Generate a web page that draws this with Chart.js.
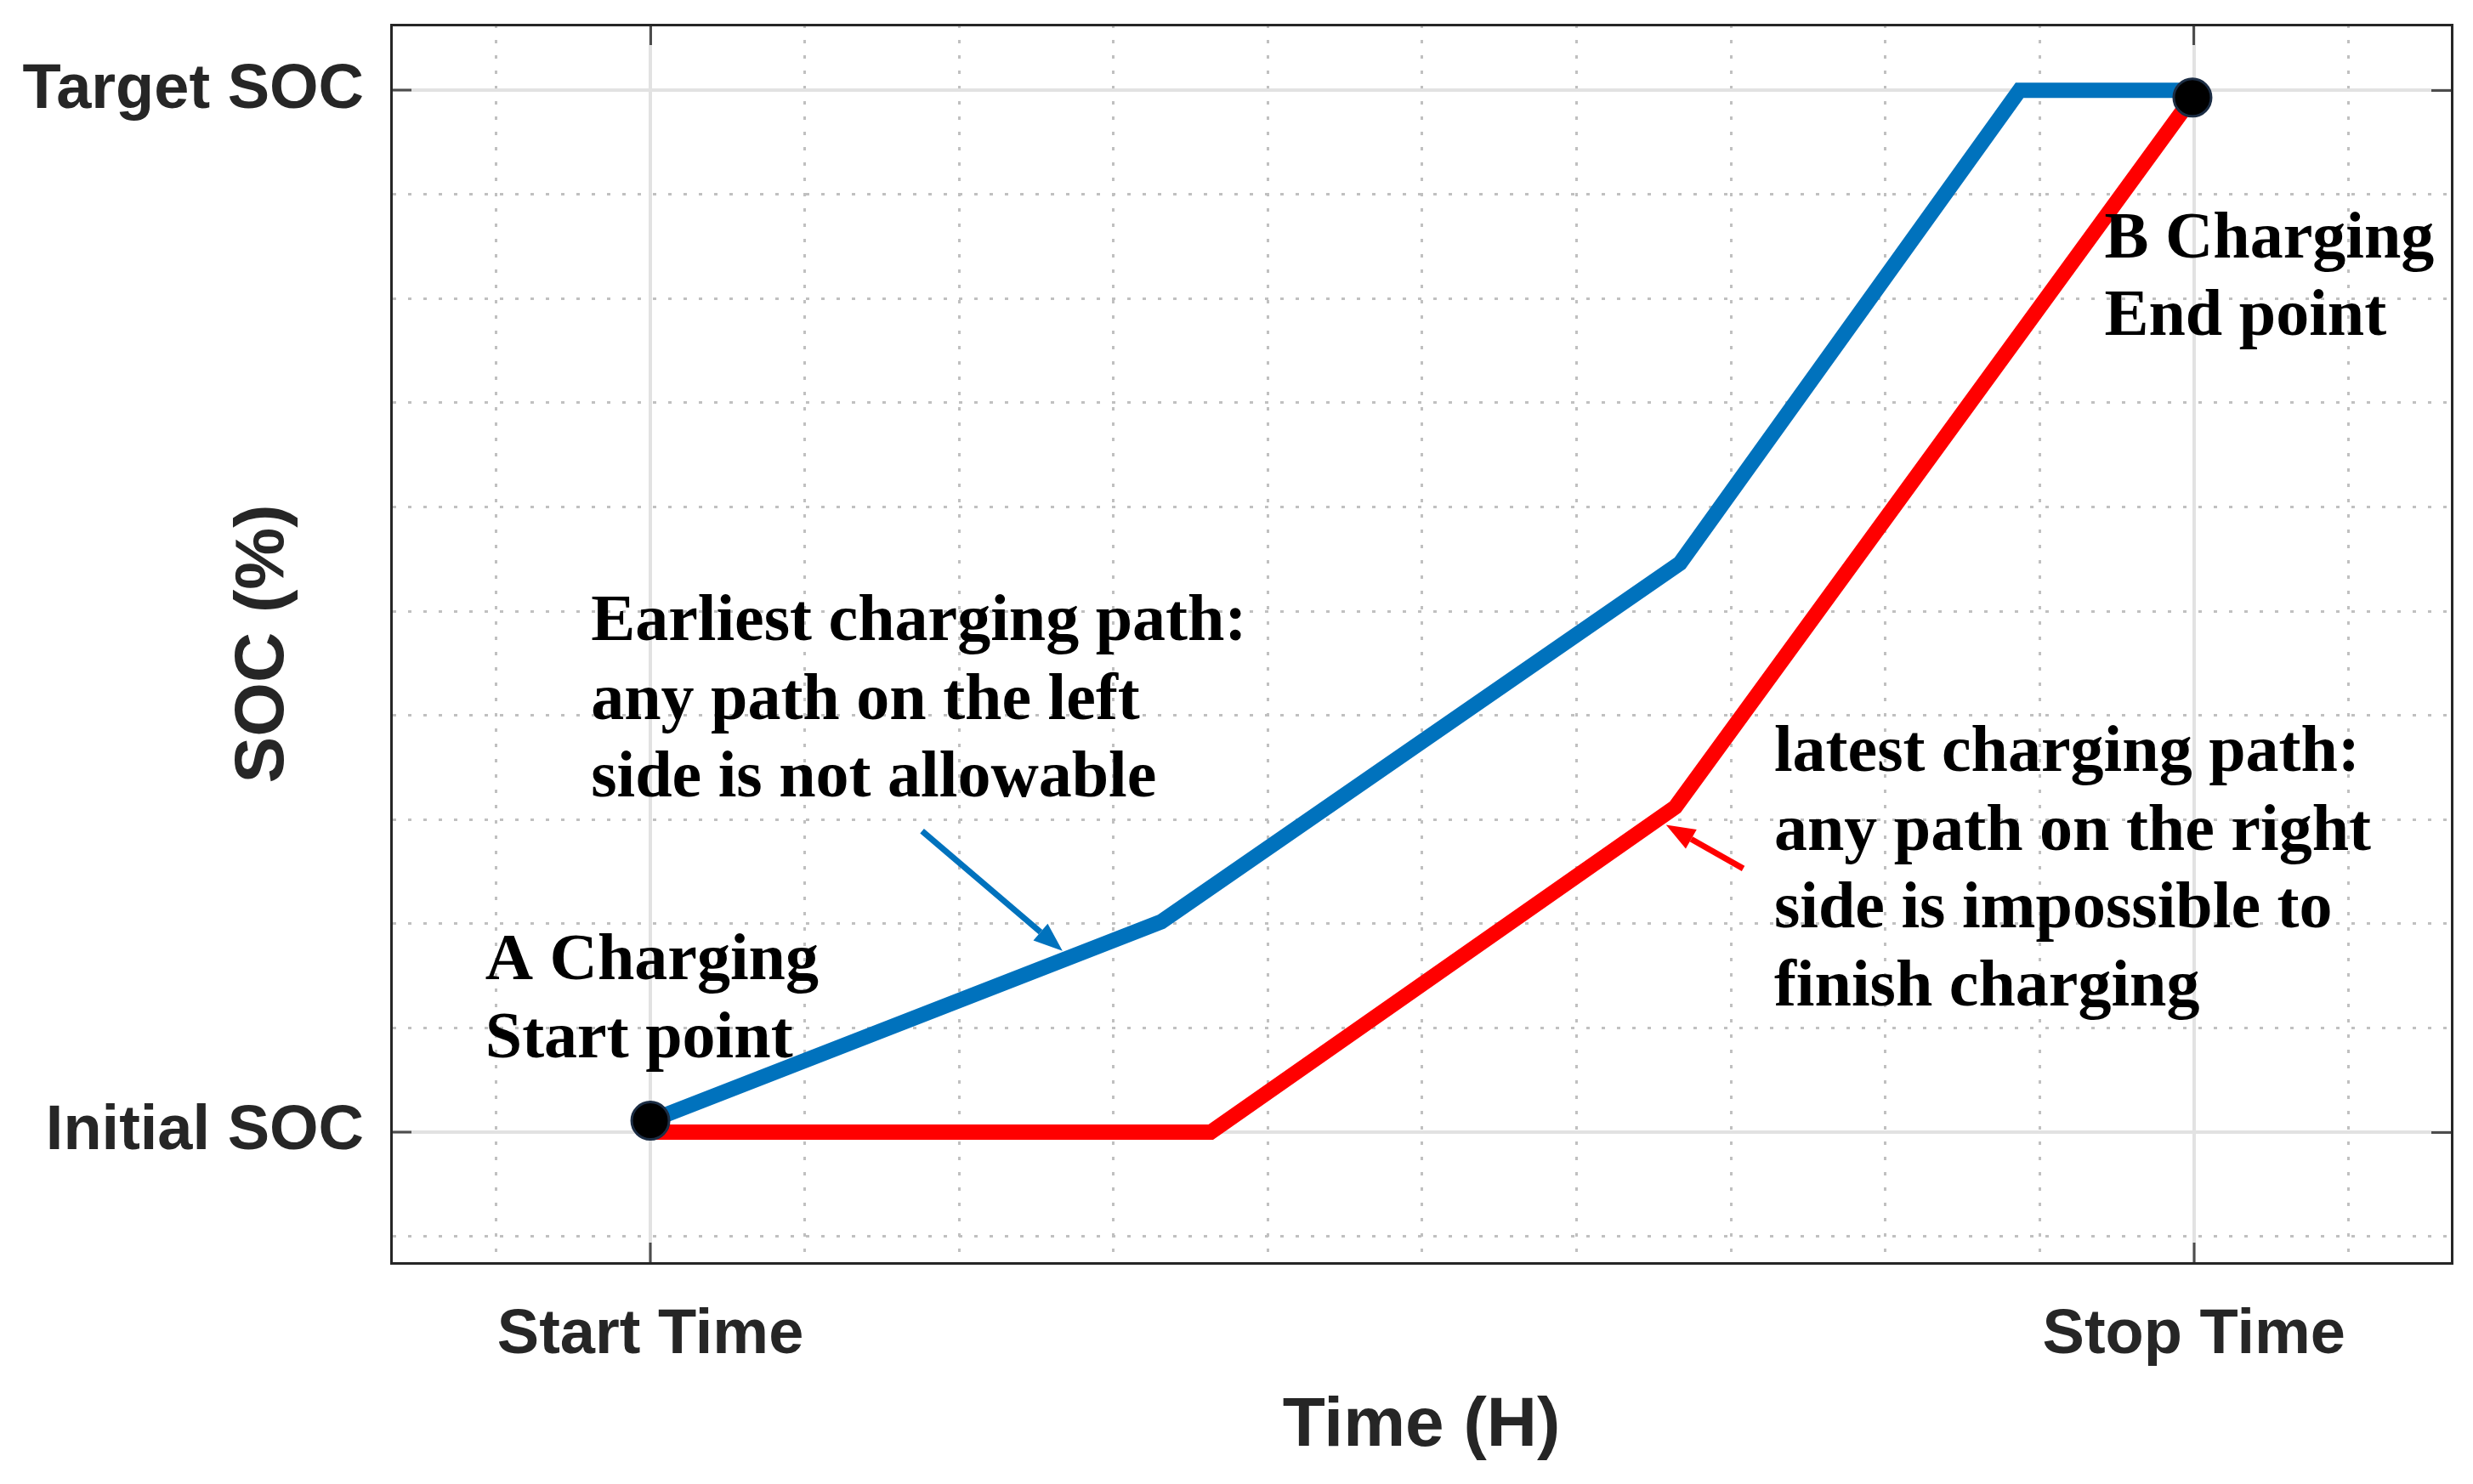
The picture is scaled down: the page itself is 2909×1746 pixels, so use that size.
<!DOCTYPE html>
<html>
<head>
<meta charset="utf-8">
<script src="https://cdn.jsdelivr.net/npm/chart.js@4.4.1/dist/chart.umd.min.js"></script>
<style>
  html, body { margin: 0; padding: 0; background: #ffffff; }
  canvas { display: block; }
</style>
</head>
<body>
<canvas id="c" width="2909" height="1746" style="width:2909px;height:1746px"></canvas>
<script>
// ---------------- data ----------------
const earliestTime = [0, 3.31, 6.67, 8.87, 10];
const earliestSOC  = [0.11, 2.02, 5.46, 10, 10];
const latestTime   = [0, 3.63, 6.64, 9.99];
const latestSOC    = [0, 0, 3.12, 9.93];
const pointTime    = [0, 9.99];
const pointSOC     = [0.11, 9.93];

const xTickValues = [0, 10];
const xTickLabels = ['Start Time', 'Stop Time'];
const yTickValues = [0, 10];
const yTickLabels = ['Initial SOC', 'Target SOC'];
const xTitle = 'Time (H)';
const yTitle = 'SOC (%)';

const noteEarliest = ['Earliest charging path:', 'any path on the left', 'side is not allowable'];
const noteLatest   = ['latest charging path:', 'any path on the right', 'side is impossible to', 'finish charging'];
const noteA        = ['A Charging', 'Start point'];
const noteB        = ['B Charging', 'End point'];

// ---------------- annotation placement (data units) ----------------
const notes = [
  { text: noteEarliest, x: -0.385, y: [4.89, 4.13, 3.39] },
  { text: noteLatest,   x: 7.28,   y: [3.63, 2.87, 2.13, 1.38] },
  { text: noteA,        x: -1.07,  y: [1.63, 0.88] },
  { text: noteB,        x: 9.42,   y: [8.56, 7.82] }
];
const arrows = [
  { from: [1.76, 2.89], to: [2.67, 1.74], color: '#0072bd' },
  { from: [7.08, 2.53], to: [6.58, 2.95], color: '#ff0000' }
];

const xMin = -1.68, xMax = 11.67, yMin = -1.256, yMax = 10.63;

const toXY = (xs, ys) => xs.map((v, i) => ({ x: v, y: ys[i] }));
const isMajor = (vals) => (c) => c.tick !== undefined && vals.includes(c.tick.value);
const majX = isMajor(xTickValues), majY = isMajor(yTickValues);

const sansFont = '"Liberation Sans", Arial, sans-serif';
const serifFont = '"Liberation Serif", "Times New Roman", serif';

function drawArrow(ctx, x1, y1, x2, y2, color, w, hl, hw) {
  const a = Math.atan2(y2 - y1, x2 - x1);
  const bx = x2 - hl * Math.cos(a), by = y2 - hl * Math.sin(a);
  ctx.strokeStyle = color; ctx.lineWidth = w; ctx.lineCap = 'butt';
  ctx.beginPath(); ctx.moveTo(x1, y1); ctx.lineTo(bx, by); ctx.stroke();
  ctx.fillStyle = color;
  ctx.beginPath();
  ctx.moveTo(x2, y2);
  ctx.lineTo(bx + hw / 2 * Math.sin(a), by - hw / 2 * Math.cos(a));
  ctx.lineTo(bx - hw / 2 * Math.sin(a), by + hw / 2 * Math.cos(a));
  ctx.closePath(); ctx.fill();
}

const notesPlugin = {
  id: 'notes',
  afterDatasetsDraw(chart) {
    const { ctx, scales: { x, y } } = chart;
    ctx.save();
    ctx.font = 'bold 78px ' + serifFont;
    ctx.fillStyle = '#000000';
    ctx.textAlign = 'left';
    ctx.textBaseline = 'middle';
    notes.forEach(n => n.text.forEach((t, i) => {
      ctx.fillText(t, x.getPixelForValue(n.x), y.getPixelForValue(n.y[i]));
    }));
    arrows.forEach(a => drawArrow(ctx,
      x.getPixelForValue(a.from[0]), y.getPixelForValue(a.from[1]),
      x.getPixelForValue(a.to[0]), y.getPixelForValue(a.to[1]),
      a.color, 7, 34, 26));
    ctx.restore();
  }
};

const gridMinor = '#c0c0c0', gridMajor = '#e2e2e2', tickDark = '#4d4d4d', frame = '#262626';

function mainGrid(maj) {
  return {
    color: c => maj(c) ? gridMajor : gridMinor,
    lineWidth: c => maj(c) ? 4 : 3,
    tickColor: c => maj(c) ? tickDark : 'rgba(0,0,0,0)',
    tickLength: -24,
    tickWidth: 3
  };
}
function mainBorder(maj) {
  return { color: frame, width: 3, dash: c => (c.tick !== undefined && !maj(c)) ? [4, 14] : [] };
}
function sideGrid(maj) {
  return {
    drawOnChartArea: false,
    tickColor: c => maj(c) ? tickDark : 'rgba(0,0,0,0)',
    tickLength: -24,
    tickWidth: 3
  };
}
function zeroPad(s) { s.paddingTop = 0; s.paddingBottom = 0; s.paddingLeft = 0; s.paddingRight = 0; }

new Chart(document.getElementById('c'), {
  type: 'scatter',
  data: {
    datasets: [
      { label: 'points', data: toXY(pointTime, pointSOC), showLine: false,
        pointRadius: 22, pointBackgroundColor: '#000000', pointBorderColor: '#1c2d44', pointBorderWidth: 3 },
      { label: 'latest', data: toXY(latestTime, latestSOC), showLine: true,
        borderColor: '#ff0000', borderWidth: 18, pointRadius: 0, tension: 0,
        borderJoinStyle: 'miter', borderCapStyle: 'butt' },
      { label: 'earliest', data: toXY(earliestTime, earliestSOC), showLine: true,
        borderColor: '#0072bd', borderWidth: 18, pointRadius: 0, tension: 0,
        borderJoinStyle: 'miter', borderCapStyle: 'butt' }
    ]
  },
  options: {
    responsive: false,
    animation: false,
    events: [],
    layout: { padding: { left: 20, right: 22, top: 29, bottom: 0 } },
    plugins: { legend: { display: false }, tooltip: { enabled: false } },
    scales: {
      x: {
        type: 'linear', position: 'bottom', min: xMin, max: xMax,
        ticks: {
          stepSize: 1, includeBounds: false, autoSkip: false, maxRotation: 0, minRotation: 0,
          padding: 65, color: frame,
          font: { family: sansFont, size: 74, weight: 'bold' },
          callback: v => { const i = xTickValues.indexOf(v); return i >= 0 ? xTickLabels[i] : ''; }
        },
        grid: mainGrid(majX),
        border: mainBorder(majX),
        title: { display: true, text: xTitle, color: frame,
                 font: { family: sansFont, size: 82, weight: 'bold' }, padding: { top: 0, bottom: 18 } },
        afterFit: s => { s.height = 260; zeroPad(s); }
      },
      y: {
        type: 'linear', position: 'left', min: yMin, max: yMax,
        ticks: {
          stepSize: 1, includeBounds: false, autoSkip: false,
          padding: 56, color: frame,
          font: { family: sansFont, size: 74, weight: 'bold' },
          callback: v => { const i = yTickValues.indexOf(v); return i >= 0 ? yTickLabels[i] : ''; }
        },
        grid: mainGrid(majY),
        border: mainBorder(majY),
        title: { display: true, text: yTitle, color: frame,
                 font: { family: sansFont, size: 82, weight: 'bold' }, padding: { top: 241, bottom: 0 } },
        afterFit: s => { s.width = 440; zeroPad(s); }
      },
      x2: {
        type: 'linear', position: 'top', min: xMin, max: xMax,
        ticks: { display: false, stepSize: 1, includeBounds: false, autoSkip: false },
        grid: sideGrid(majX),
        border: { color: frame, width: 3 },
        afterFit: s => { s.height = 0; zeroPad(s); }
      },
      y2: {
        type: 'linear', position: 'right', min: yMin, max: yMax,
        ticks: { display: false, stepSize: 1, includeBounds: false, autoSkip: false },
        grid: sideGrid(majY),
        border: { color: frame, width: 3 },
        afterFit: s => { s.width = 0; zeroPad(s); }
      }
    }
  },
  plugins: [notesPlugin]
});
</script>
</body>
</html>
